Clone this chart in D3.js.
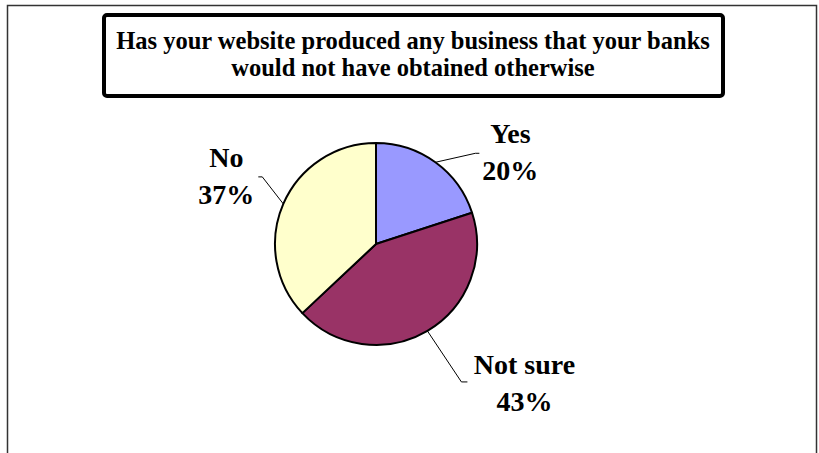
<!DOCTYPE html>
<html>
<head>
<meta charset="utf-8">
<script src="https://cdn.jsdelivr.net/npm/d3@7"></script>
<style>
  body { margin: 0; background: #fff; }
  svg { display: block; }
  text { font-family: "Liberation Serif", "Times New Roman", serif; font-weight: bold; fill: #000; }
</style>
</head>
<body>
<div id="canvas"></div>
<script>
// chart data
var categories = ["Yes", "Not sure", "No"];
var shares = [20, 43, 37];
var colors = ["#9999ff", "#993366", "#ffffcc"];
var titleLines = ["Has your website produced any business that your banks",
                  "would not have obtained otherwise"];

// label layout: leader elbow and text offset from the slice edge point
var labelLayout = [
  { elbow: [40, -9], tail: 4, text: [75, -19] },
  { elbow: [34, 51], tail: 6, text: [97, 43] },
  { elbow: [-21, -27], tail: -4, text: [-57, -37] }
];

var width = 819, height = 453;
var cx = 376, cy = 244, radius = 101;

var svg = d3.select("#canvas")
  .append("svg")
  .attr("width", width)
  .attr("height", height);

// outer frame
svg.append("rect")
  .attr("x", 7.5).attr("y", 5.5)
  .attr("width", 809).attr("height", 470)
  .attr("fill", "none")
  .attr("stroke", "#333")
  .attr("stroke-width", 1.5);

// title box
svg.append("rect")
  .attr("x", 104).attr("y", 15)
  .attr("width", 619).attr("height", 81)
  .attr("rx", 3)
  .attr("fill", "#fff")
  .attr("stroke", "#000")
  .attr("stroke-width", 4);

svg.selectAll(".title")
  .data(titleLines)
  .enter().append("text")
  .attr("class", "title")
  .attr("x", 413)
  .attr("y", function(d, i) { return 49 + i * 27; })
  .attr("text-anchor", "middle")
  .style("font-size", "24.5px")
  .text(function(d) { return d; });

// pie
var pie = d3.pie().sort(null).value(function(d) { return d; });
var arcs = pie(shares);
var arc = d3.arc().innerRadius(0).outerRadius(radius);
var edgeArc = d3.arc().innerRadius(radius).outerRadius(radius);

var g = svg.append("g").attr("transform", "translate(" + cx + "," + cy + ")");

g.selectAll("path.slice")
  .data(arcs)
  .enter().append("path")
  .attr("class", "slice")
  .attr("d", arc)
  .attr("fill", function(d, i) { return colors[i]; })
  .attr("stroke", "#000")
  .attr("stroke-width", 2)
  .attr("stroke-linejoin", "round");

// leader lines and labels
arcs.forEach(function(d, i) {
  var p = edgeArc.centroid(d);
  var lay = labelLayout[i];
  var ex = p[0] + lay.elbow[0], ey = p[1] + lay.elbow[1];
  g.append("polyline")
    .attr("points", [p, [ex, ey], [ex + lay.tail, ey]].map(function(q) { return q.join(","); }).join(" "))
    .attr("fill", "none")
    .attr("stroke", "#000")
    .attr("stroke-width", 1);

  var t = g.append("text")
    .attr("x", p[0] + lay.text[0])
    .attr("y", p[1] + lay.text[1])
    .attr("text-anchor", "middle")
    .style("font-size", "28px");
  t.append("tspan").attr("x", p[0] + lay.text[0]).text(categories[i]);
  t.append("tspan").attr("x", p[0] + lay.text[0]).attr("dy", 37).text(shares[i] + "%");
});
</script>
</body>
</html>
